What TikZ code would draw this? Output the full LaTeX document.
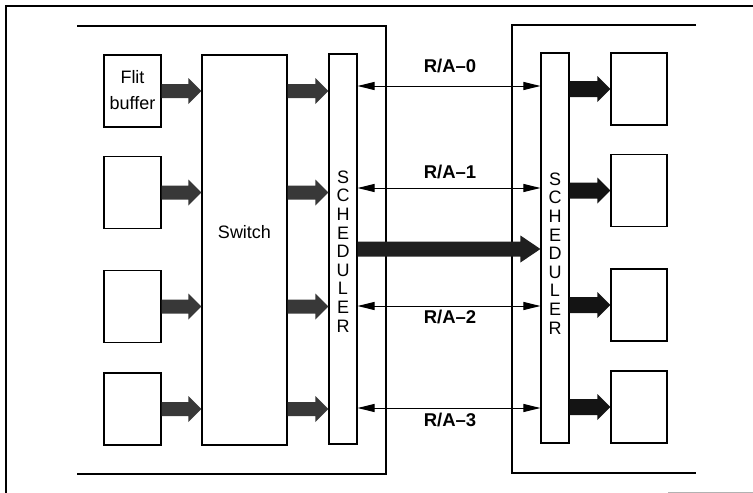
\documentclass[tikz,border=0pt]{standalone}
\usepackage{fontspec}
\setmainfont{Liberation Sans}
\usetikzlibrary{arrows.meta,calc}
\newcommand\fatarr[6]{%
 \fill[#6] let \p1=(#1), \p2=(#2) in
  (\x1,{\y1+#3}) -- ({\x2-#5},{\y1+#3}) -- ({\x2-#5},{\y1+#4}) -- (\x2,\y1)
  -- ({\x2-#5},{\y1-#4}) -- ({\x2-#5},{\y1-#3}) -- (\x1,{\y1-#3}) -- cycle;}
\newcommand\stacktext[2]{{\fontsize{18}{#1}\selectfont\begin{tabular}{@{}c@{}}#2\end{tabular}}}
\newcommand\lowered[2]{\raisebox{-#1}[\height][\depth]{#2}}
\begin{document}
\begin{tikzpicture}[x=1pt,y=-1pt,
  every node/.style={font=\fontsize{18}{21}\selectfont},
  box/.style={draw,line width=1.1pt,inner sep=0pt},
  buf/.style={box,minimum width=57pt,minimum height=72pt},
  sched/.style={box,minimum width=28pt,minimum height=390pt},
  frame/.style={line width=1.3pt},
  ra/.style={line width=1pt,{Triangle[length=17pt,width=8pt]}-{Triangle[length=17pt,width=8pt]}},
  ralabel/.style={font=\fontsize{18.5}{21}\selectfont\bfseries}]
\useasboundingbox (0,0) rectangle (753,493);
% outer frame
\draw[frame] (6,493) -- (6,6) -- (753,6);
\draw[line width=1pt,black!30] (668,492) -- (753,492);
% router frames
\draw[frame] (77,26) -- (386,26) -- (386,474) -- (77,474);
\draw[frame] (696,25) -- (512,25) -- (512,473) -- (696,473);
% left buffers
\node[buf] (lb1) at (132.5,91) {\stacktext{26pt}{Flit\\buffer}};
\node[buf] (lb2) at (132.5,192.5) {};
\node[buf] (lb3) at (132.5,306.5) {};
\node[buf] (lb4) at (132.5,409) {};
% switch
\node[box,minimum width=85pt,minimum height=390pt,
  label={[yshift=18pt]center:Switch}] (sw) at (244.5,250) {};
% schedulers
\node[sched] (ls) at (343,249) {\lowered{5pt}{\stacktext{18.6pt}{S\\C\\H\\E\\D\\U\\L\\E\\R}}};
\node[sched] (rs) at (555,248) {\lowered{8pt}{\stacktext{18.6pt}{S\\C\\H\\E\\D\\U\\L\\E\\R}}};
% right buffers
\node[buf,minimum width=56pt] (rb1) at (639,89) {};
\node[buf,minimum width=56pt] (rb2) at (639,190.5) {};
\node[buf,minimum width=56pt] (rb3) at (639,305) {};
\node[buf,minimum width=56pt] (rb4) at (639,407) {};
% fat arrows
\foreach \i in {1,2,3,4}{
  \fatarr{lb\i.east}{sw.west |- lb\i.east}{7pt}{13pt}{13pt}{black!78}
  \fatarr{sw.east |- lb\i.east}{ls.west |- lb\i.east}{7pt}{13pt}{13pt}{black!78}
  \fatarr{rs.east |- rb\i.west}{rb\i.west}{8pt}{13pt}{13pt}{black!92}
}
\fatarr{ls.east}{rs.west |- ls.east}{7.5pt}{13.5pt}{20pt}{black!88}
% request/ack lines
\coordinate (r0) at (0,86);
\coordinate (r1) at (0,188);
\coordinate (r2) at (0,306);
\coordinate (r3) at (0,408);
\foreach \i in {0,1,2,3}{
  \draw[ra] (ls.east |- r\i) -- (rs.west |- r\i);
}
\node[ralabel] (t0) at (450,66) {R/A–0};
\node[ralabel] (t1) at (450,172) {R/A–1};
\node[ralabel] (t2) at (450,317) {R/A–2};
\node[ralabel] (t3) at (450,420) {R/A–3};
\end{tikzpicture}
\end{document}
